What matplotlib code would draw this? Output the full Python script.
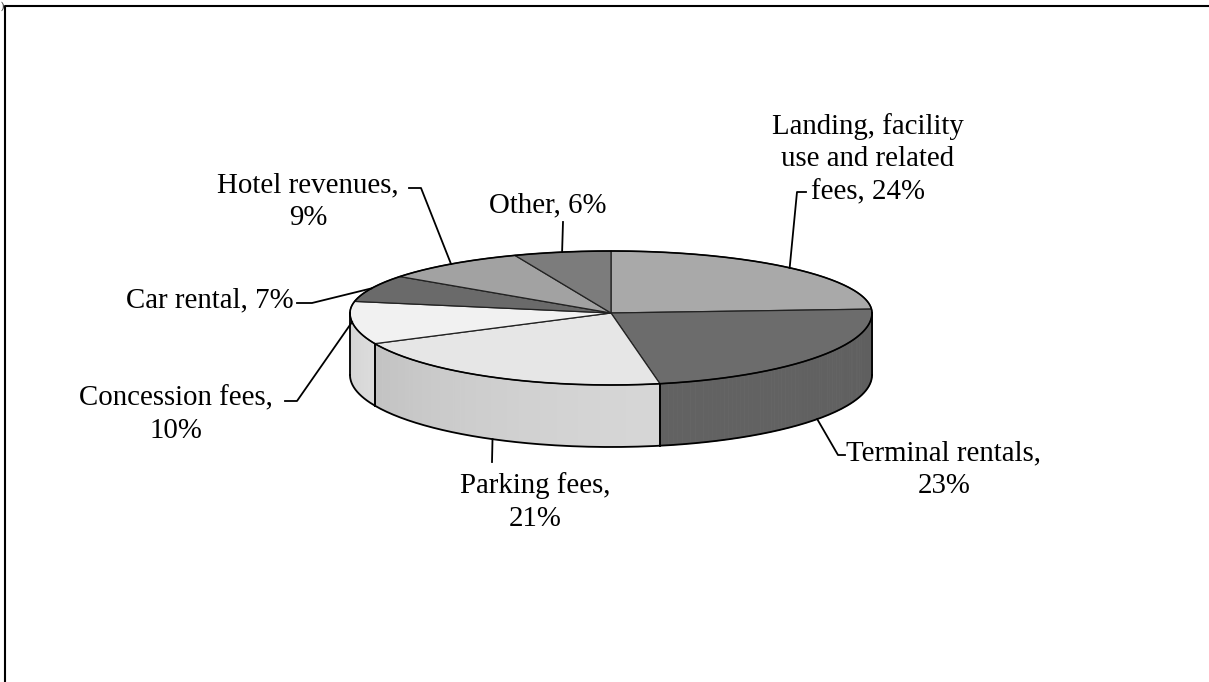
import numpy as np
import matplotlib
matplotlib.use("Agg")
import matplotlib.pyplot as plt
from matplotlib.patches import Polygon

# slices, clockwise from 12 o'clock
labels = ["Landing, facility\nuse and related\nfees, 24%", "Terminal rentals,\n23%",
          "Parking fees,\n21%", "Concession fees,\n10%", "Car rental, 7%",
          "Hotel revenues,\n9%", "Other, 6%"]
shares = [24, 23, 21, 10, 7, 9, 6]
top_colors = ["#a9a9a9", "#6c6c6c", "#e6e6e6", "#f1f1f1", "#6a6a6a", "#a2a2a2", "#7c7c7c"]
side_colors = ["#8c8c8c", "#595959", "#c4c4c4", "#dedede", "#555555", "#888888", "#666666"]

# label layout: text centre and leader bend points (pixels)
label_pos = [(868, 159), (944, 470), (535, 502), (176, 415), (210, 300), (308, 202), (548, 205)]
leader_pts = [[(797, 192), (806, 192)], [(838, 455), (845, 455)], [(492, 462)],
              [(297, 401), (285, 401)], [(312, 303), (297, 303)],
              [(421, 188), (409, 188)], [(563, 222)]]

W, H = 1209, 682
cx, cy = 611, 313
a, b_back, b_front = 261, 62, 72
depth = 62


def rim(theta):
    t = np.radians(theta)
    s = np.sin(t)
    b = np.where(s > 0, b_back, b_front)
    return cx + a * np.cos(t), cy - b * s


fig = plt.figure(figsize=(W / 100, H / 100), dpi=100)
ax = fig.add_axes([0, 0, 1, 1])
ax.set_xlim(0, W)
ax.set_ylim(H, 0)
ax.axis("off")

frac = np.array(shares) / sum(shares) * 360
starts = 90 - np.concatenate([[0], np.cumsum(frac)[:-1]])
ends = starts - frac

# side walls (front half only), shaded in thin strips
for s0, s1, col in zip(starts, ends, side_colors):
    lo, hi = max(s1, -180), min(s0, 0)
    if hi <= lo:
        continue
    th = np.linspace(hi, lo, 80)
    base = np.array(matplotlib.colors.to_rgb(col))
    for t0, t1 in zip(th[:-1], th[1:]):
        x0, y0 = rim(t0)
        x1, y1 = rim(t1)
        k = 1.0 + 0.10 * np.cos(np.radians((t0 + t1) / 2 + 60))
        c = np.clip(base * k, 0, 1)
        ax.add_patch(Polygon([(x0, y0), (x1, y1), (x1, y1 + depth), (x0, y0 + depth)],
                             closed=True, fc=c, ec=c, lw=0.6))
    for t in (hi, lo):
        if -180 < t < 0:
            x, y = rim(t)
            ax.plot([x, x], [y, y + depth], color="black", lw=1.2)

# outline of the side
th = np.linspace(0, -180, 200)
xs, ys = rim(th)
ax.plot(xs, ys + depth, color="black", lw=1.3)
ax.plot([cx + a, cx + a], [cy, cy + depth], color="black", lw=1.3)
ax.plot([cx - a, cx - a], [cy, cy + depth], color="black", lw=1.3)

# top faces
for s0, s1, col in zip(starts, ends, top_colors):
    th = np.linspace(s0, s1, 100)
    xs, ys = rim(th)
    pts = [(cx, cy)] + list(zip(xs, ys))
    ax.add_patch(Polygon(pts, closed=True, fc=col, ec="#222222", lw=0.9))
th = np.linspace(0, 360, 400)
xs, ys = rim(th)
ax.plot(xs, ys, color="black", lw=1.2)

# labels and leader lines
for s0, s1, txt, (tx, ty), pts in zip(starts, ends, labels, label_pos, leader_pts):
    mid = (s0 + s1) / 2
    x, y = rim(mid)
    if np.sin(np.radians(mid)) < 0 and mid > -160:
        y = y + depth
    line = [(float(x), float(y))] + pts
    ax.plot([p[0] for p in line], [p[1] for p in line], color="black", lw=1.3)
    ax.text(tx, ty, txt, ha="center", va="center", multialignment="center",
            fontsize=20.8, family="Liberation Serif", linespacing=1.32)

# frame of the scanned page
ax.plot([5, 5, W], [H, 6, 6], color="black", lw=1.5)
ax.text(1, 1, ")", fontsize=7, family="Liberation Serif", va="top", ha="left")

fig.savefig("out.png", dpi=100)
